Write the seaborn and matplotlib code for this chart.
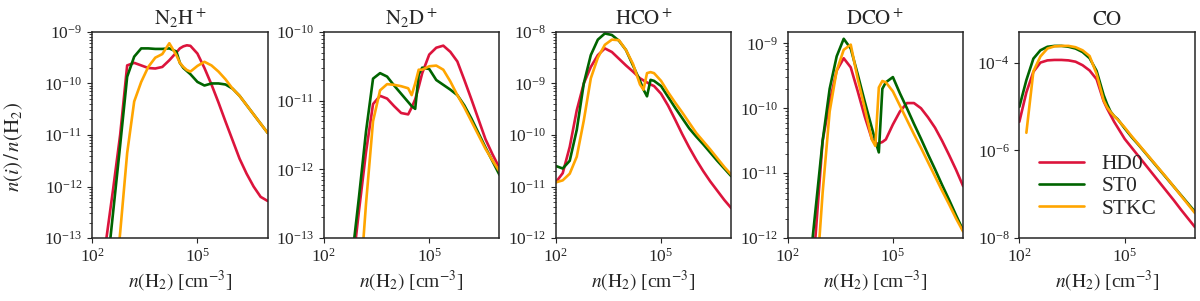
import numpy as np
import pandas as pd
import matplotlib
matplotlib.use('Agg')
import matplotlib.pyplot as plt
from matplotlib.ticker import NullLocator
import seaborn as sns

# densidad (log10 n(H2)) comun a todos los modelos
log_n = [2.0, 2.2, 2.4, 2.6, 2.8, 3.0, 3.2, 3.4, 3.6, 3.8, 4.0, 4.2, 4.4, 4.5,
         4.6, 4.7, 4.8, 5.0, 5.2, 5.4, 5.6, 5.8, 6.0, 6.2, 6.4, 6.6, 6.8, 7.0]

modelos = ['HD0', 'ST0', 'STKC']
colores = ['#dc143c', '#006400', '#ffa500']

# log10 de la abundancia n(i)/n(H2)
n2hp_hd0 = [-15.5, -14.2, -13.05, -12.05, -11.0, -9.65, -9.6, -9.65, -9.7, -9.71, -9.68, -9.55, -9.4, -9.32,
            -9.28, -9.26, -9.27, -9.42, -9.7, -10.02, -10.37, -10.74, -11.1, -11.46, -11.75, -12.0, -12.2, -12.28]
n2hp_st0 = [-16, -15, -13.8, -12.5, -11.2, -9.87, -9.48, -9.32, -9.32, -9.33, -9.33, -9.32, -9.38, -9.6,
            -9.7, -9.76, -9.82, -9.97, -10.04, -10.0, -10.0, -10.02, -10.1, -10.24, -10.42, -10.6, -10.78, -10.96]
n2hp_stkc = [-17, -16, -15, -14.3, -12.9, -11.35, -10.35, -9.97, -9.68, -9.5, -9.43, -9.22, -9.45, -9.6,
             -9.68, -9.74, -9.77, -9.66, -9.58, -9.65, -9.77, -9.92, -10.1, -10.24, -10.42, -10.6, -10.78, -10.96]

n2dp_hd0 = [-16.5, -15.8, -15, -14.2, -13.5, -12.6, -11.75, -11.05, -10.93, -10.97, -11.08, -11.18, -11.2, -11.1,
            -10.98, -10.8, -10.6, -10.33, -10.23, -10.2, -10.29, -10.43, -10.7, -10.98, -11.27, -11.56, -11.78, -11.98]
n2dp_st0 = [-17, -16, -15.2, -14.3, -13.3, -12.4, -11.45, -10.68, -10.6, -10.65, -10.78, -10.9, -11.02, -11.08,
            -11.12, -10.62, -10.52, -10.54, -10.7, -10.77, -10.84, -10.92, -11.07, -11.26, -11.47, -11.68, -11.88, -12.08]
n2dp_stkc = [-18, -17.2, -16.5, -16, -15.5, -13.9, -12.5, -11.3, -10.85, -10.76, -10.77, -10.79, -10.82, -10.92,
             -10.75, -10.55, -10.55, -10.5, -10.49, -10.55, -10.72, -10.92, -11.1, -11.3, -11.5, -11.7, -11.87, -12.03]

hcop_hd0 = [-10.92, -10.74, -10.23, -9.52, -9.0, -8.68, -8.45, -8.32, -8.39, -8.52, -8.65, -8.77, -8.9, -8.94,
            -8.98, -9.02, -9.05, -9.2, -9.43, -9.7, -9.98, -10.24, -10.48, -10.7, -10.9, -11.08, -11.26, -11.42]
hcop_st0 = [-10.6, -10.65, -10.5, -9.9, -9.0, -8.45, -8.15, -8.03, -8.06, -8.17, -8.35, -8.65, -8.95, -9.12,
            -9.25, -8.93, -8.95, -9.05, -9.26, -9.47, -9.67, -9.87, -10.03, -10.18, -10.34, -10.5, -10.65, -10.8]
hcop_stkc = [-10.92, -10.88, -10.75, -10.42, -9.72, -8.9, -8.5, -8.25, -8.15, -8.16, -8.35, -8.62, -9.02, -9.12,
             -8.8, -8.78, -8.8, -8.95, -9.17, -9.37, -9.56, -9.76, -9.96, -10.12, -10.28, -10.45, -10.62, -10.77]

dcop_hd0 = [-16, -15, -14, -13.3, -11.95, -10.5, -9.9, -9.42, -9.23, -9.37, -9.74, -10.13, -10.47, -10.55,
            -10.54, -10.52, -10.48, -10.25, -10.05, -9.92, -9.92, -10.0, -10.14, -10.3, -10.5, -10.72, -10.95, -11.2]
dcop_st0 = [-16, -15, -13.6, -12.6, -11.55, -10.5, -9.7, -9.2, -8.93, -9.08, -9.48, -9.9, -10.3, -10.5,
            -10.68, -9.7, -9.6, -9.52, -9.77, -10.0, -10.24, -10.47, -10.71, -10.94, -11.18, -11.41, -11.65, -11.88]
dcop_stkc = [-17, -16, -15, -14, -12.85, -11.3, -10.05, -9.42, -9.1, -9.02, -9.55, -10.0, -10.48, -10.58,
             -9.68, -9.58, -9.6, -9.74, -9.96, -10.18, -10.4, -10.61, -10.83, -11.05, -11.27, -11.48, -11.7, -11.9]

co_hd0 = [-5.35, -4.68, -4.21, -4.0, -3.95, -3.94, -3.94, -3.95, -3.98, -4.06, -4.18, -4.38, -4.88, -5.05,
          -5.2, -5.35, -5.48, -5.74, -5.94, -6.14, -6.34, -6.54, -6.74, -6.94, -7.14, -7.35, -7.55, -7.75]
co_st0 = [-5.01, -4.4, -3.91, -3.72, -3.64, -3.62, -3.62, -3.64, -3.68, -3.76, -3.9, -4.19, -4.74, -4.95,
          -5.12, -5.22, -5.29, -5.5, -5.7, -5.88, -6.07, -6.26, -6.45, -6.64, -6.83, -7.02, -7.21, -7.4]
co_stkc = [np.nan, -5.6, -4.2, -3.86, -3.68, -3.63, -3.62, -3.62, -3.65, -3.72, -3.85, -4.26, -4.86, -5.02,
           -5.13, -5.22, -5.3, -5.48, -5.68, -5.87, -6.06, -6.25, -6.44, -6.63, -6.83, -7.03, -7.23, -7.43]

titulos = [r'$\mathrm{N_2H^+}$', r'$\mathrm{N_2D^+}$', r'$\mathrm{HCO^+}$', r'$\mathrm{DCO^+}$', r'$\mathrm{CO}$']
datos = [(n2hp_hd0, n2hp_st0, n2hp_stkc), (n2dp_hd0, n2dp_st0, n2dp_stkc),
         (hcop_hd0, hcop_st0, hcop_stkc), (dcop_hd0, dcop_st0, dcop_stkc),
         (co_hd0, co_st0, co_stkc)]
limites_y = [(1e-13, 1e-9), (1e-13, 1e-10), (1e-12, 1e-8), (1e-12, 1.5e-9), (1e-8, 5e-4)]
ticks_y = [[1e-13, 1e-12, 1e-11, 1e-10, 1e-9], [1e-13, 1e-12, 1e-11, 1e-10],
           [1e-12, 1e-11, 1e-10, 1e-9, 1e-8], [1e-12, 1e-11, 1e-10, 1e-9], [1e-8, 1e-6, 1e-4]]
ticks_x = [1e2, 1e5]


# arma la tabla larga que usa seaborn
def tabla(series):
    partes = []
    for m, vals in zip(modelos, series):
        partes.append(pd.DataFrame({'n': 10.0 ** np.array(log_n),
                                    'ab': 10.0 ** np.array(vals, dtype=float),
                                    'modelo': m}))
    return pd.concat(partes, ignore_index=True)


sns.set_style('ticks')
plt.rcParams['font.family'] = ['Liberation Serif', 'DejaVu Serif']
plt.rcParams['mathtext.fontset'] = 'stix'
plt.rcParams['axes.linewidth'] = 1.1

fig, axs = plt.subplots(1, 5, figsize=(12, 3.01), dpi=100)
fig.subplots_adjust(left=0.0767, right=0.9958, top=0.894, bottom=0.209, wspace=0.32)

for i, ax in enumerate(axs):
    df = tabla(datos[i])
    sns.lineplot(data=df, x='n', y='ab', hue='modelo', palette=colores, estimator=None,
                 linewidth=1.9, ax=ax, legend=(i == 4))
    ax.set_xscale('log')
    ax.set_yscale('log')
    ax.set_xlim(1e2, 1e7)
    ax.set_ylim(*limites_y[i])
    ax.set_xticks(ticks_x)
    ax.xaxis.set_minor_locator(NullLocator())
    ax.set_yticks(ticks_y[i])
    ax.set_title(titulos[i], fontsize=15, pad=5)
    ax.set_xlabel(r'$n(\mathrm{H_2})$ [cm$^{-3}$]', fontsize=14, labelpad=2)
    ax.set_ylabel('')
    ax.tick_params(labelsize=12.5)
    if i == 4:
        ax.yaxis.set_minor_locator(NullLocator())
        sns.move_legend(ax, 'lower left', bbox_to_anchor=(0.0, 0.0), frameon=False,
                        title=None, fontsize=15.5, handlelength=2.1, labelspacing=0.1)

axs[0].set_ylabel(r'$n(i)\,/\,n(\mathrm{H_2})$', fontsize=15)
axs[0].yaxis.set_label_coords(-0.38, 0.44)

plt.savefig('out.png', dpi=100)
